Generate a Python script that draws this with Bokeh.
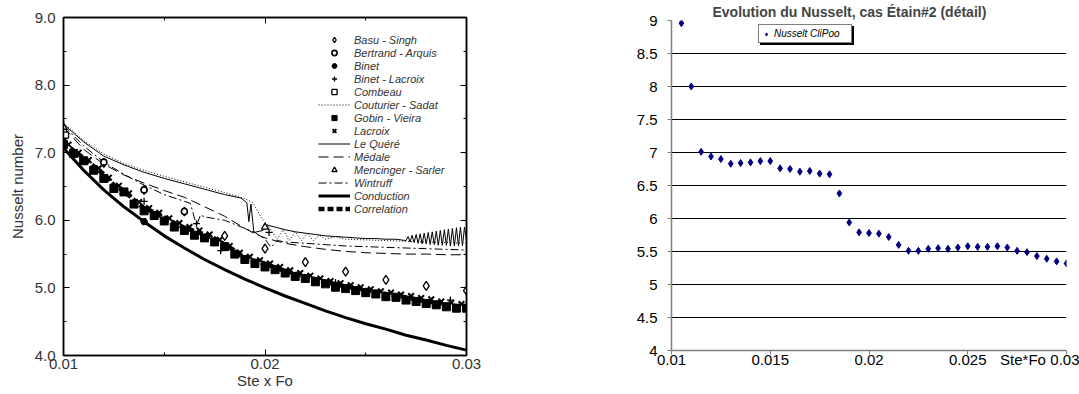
from bokeh.plotting import figure
from bokeh.layouts import row, column
from bokeh.models import (LinearAxis, FixedTicker, Legend, LegendItem, Range1d)
from bokeh.embed import file_html
from bokeh.resources import INLINE

FONT = "Liberation Sans"

# ---------------- Left panel data ----------------
basu_x = [0.012, 0.014, 0.016, 0.018, 0.020, 0.022, 0.024, 0.026, 0.028, 0.030]
basu_y = [6.85, 6.45, 6.13, 5.77, 5.58, 5.38, 5.24, 5.12, 5.03, 4.96]

bertrand_x = [0.012, 0.014, 0.016]
bertrand_y = [6.86, 6.45, 6.13]

binet_x = [0.0100, 0.0140]
binet_y = [7.22, 5.98]

binetlac_x = [0.0100, 0.0140, 0.0166, 0.0178, 0.0202, 0.0235, 0.0292]
binetlac_y = [7.28, 6.28, 5.95, 5.55, 5.82, 5.08, 4.82]

combeau_x = [0.0100, 0.0101]
combeau_y = [7.30, 7.26]

mencinger_x = [0.0100, 0.0200]
mencinger_y = [7.38, 5.90]

couturier_x = [0.0100, 0.0110, 0.0120, 0.0130, 0.0140, 0.0150, 0.0160, 0.0170, 0.0180, 0.0190,
               0.0194, 0.0198, 0.0202, 0.0206, 0.0209, 0.0212, 0.0215, 0.0218, 0.0221, 0.0224,
               0.0227, 0.0230, 0.0235, 0.0240, 0.0250, 0.0260, 0.0270, 0.0280, 0.0290, 0.0300]
couturier_y = [7.44, 7.18, 6.98, 6.84, 6.74, 6.65, 6.57, 6.49, 6.41, 6.32,
               6.26, 6.05, 5.90, 5.72, 5.86, 5.70, 5.83, 5.70, 5.80, 5.70,
               5.78, 5.72, 5.76, 5.72, 5.71, 5.70, 5.69, 5.68, 5.67, 5.66]

lequere_x = [0.0100, 0.0110, 0.0120, 0.0130, 0.0140, 0.0150, 0.0160, 0.0170, 0.0180, 0.0188,
             0.0191, 0.0192, 0.0193, 0.01945, 0.0199, 0.0201, 0.0205, 0.0210, 0.0215, 0.0220,
             0.0225, 0.0230, 0.0235, 0.0240, 0.0245, 0.0250, 0.0255, 0.0260, 0.0265,
             0.0270, 0.0271, 0.0272, 0.0273, 0.0274, 0.0275, 0.0276, 0.0277, 0.0278, 0.0279,
             0.0280, 0.0281, 0.0282, 0.0283, 0.0284, 0.0285, 0.0286, 0.0287, 0.0288, 0.0289,
             0.0290, 0.0291, 0.0292, 0.0293, 0.0294, 0.0295, 0.0296, 0.0297, 0.0298, 0.0299,
             0.0300]
lequere_y = [7.42, 7.16, 6.95, 6.82, 6.71, 6.62, 6.54, 6.46, 6.38, 6.33,
             6.26, 5.98, 6.24, 5.82, 5.85, 5.93, 5.90, 5.86, 5.83, 5.81,
             5.79, 5.77, 5.76, 5.75, 5.74, 5.73, 5.73, 5.72, 5.72,
             5.70, 5.76, 5.68, 5.78, 5.67, 5.79, 5.66, 5.80, 5.65, 5.81,
             5.65, 5.82, 5.64, 5.83, 5.64, 5.84, 5.63, 5.85, 5.63, 5.86,
             5.63, 5.87, 5.62, 5.88, 5.62, 5.89, 5.62, 5.90, 5.62, 5.90,
             5.70]

medale_x = [0.0100, 0.0110, 0.0120, 0.0130, 0.0140, 0.0150, 0.0160, 0.0170, 0.0180, 0.0190,
            0.0195, 0.0200, 0.0210, 0.0220, 0.0230, 0.0240, 0.0250, 0.0260, 0.0270, 0.0280,
            0.0290, 0.0300]
medale_y = [7.38, 7.05, 6.83, 6.67, 6.55, 6.44, 6.34, 6.20, 6.06, 5.88,
            5.80, 5.74, 5.66, 5.61, 5.57, 5.54, 5.52, 5.51, 5.50, 5.50,
            5.49, 5.49]

wintruff_x = [0.0100, 0.0110, 0.0120, 0.0130, 0.0140, 0.0150, 0.0160, 0.0163, 0.0166, 0.0168,
              0.0170, 0.0180, 0.0190, 0.0195, 0.0200, 0.0203, 0.0206, 0.0210, 0.0220, 0.0230,
              0.0240, 0.0250, 0.0260, 0.0270, 0.0280, 0.0290, 0.0300]
wintruff_y = [7.40, 7.10, 6.86, 6.68, 6.52, 6.38, 6.28, 6.25, 5.92, 6.08,
              6.05, 6.00, 5.88, 5.82, 5.72, 5.60, 5.70, 5.68, 5.66, 5.64,
              5.62, 5.61, 5.60, 5.59, 5.58, 5.57, 5.56]

conduction_x = [0.010, 0.011, 0.012, 0.013, 0.014, 0.015, 0.016, 0.017, 0.018, 0.019, 0.020,
                0.021, 0.022, 0.023, 0.024, 0.025, 0.026, 0.027, 0.028, 0.029, 0.030]
conduction_y = [7.07, 6.74, 6.45, 6.20, 5.98, 5.77, 5.59, 5.42, 5.27, 5.13, 5.00,
                4.88, 4.77, 4.66, 4.56, 4.47, 4.39, 4.30, 4.23, 4.15, 4.08]

band_x = [0.0100, 0.0105, 0.0110, 0.0115, 0.0120, 0.0125, 0.0130, 0.0135, 0.0140, 0.0145,
          0.0150, 0.0155, 0.0160, 0.0165, 0.0170, 0.0175, 0.0180, 0.0185, 0.0190, 0.0195,
          0.0200, 0.0205, 0.0210, 0.0215, 0.0220, 0.0225, 0.0230, 0.0235, 0.0240, 0.0245,
          0.0250, 0.0255, 0.0260, 0.0265, 0.0270, 0.0275, 0.0280, 0.0285, 0.0290, 0.0295,
          0.0300]
correlation_y = [7.15, 7.03, 6.92, 6.80, 6.68, 6.52, 6.44, 6.30, 6.18, 6.12,
                 6.04, 5.96, 5.89, 5.84, 5.79, 5.73, 5.64, 5.55, 5.44, 5.40,
                 5.36, 5.30, 5.25, 5.21, 5.17, 5.13, 5.09, 5.05, 5.02, 5.00,
                 4.97, 4.94, 4.91, 4.89, 4.86, 4.83, 4.80, 4.78, 4.75, 4.73,
                 4.72]
gobin_y = [7.12, 6.99, 6.88, 6.74, 6.62, 6.47, 6.42, 6.24, 6.14, 6.07,
           5.99, 5.90, 5.85, 5.78, 5.74, 5.68, 5.61, 5.50, 5.42, 5.36,
           5.31, 5.27, 5.22, 5.17, 5.14, 5.09, 5.06, 5.01, 4.99, 4.96,
           4.93, 4.91, 4.87, 4.86, 4.82, 4.80, 4.77, 4.75, 4.72, 4.70,
           4.70]
lacroix_x = [0.01025, 0.01075, 0.01125, 0.01175, 0.01225, 0.01275, 0.01325, 0.01375, 0.01425, 0.01475,
             0.01525, 0.01575, 0.01625, 0.01675, 0.01725, 0.01775, 0.01825, 0.01875, 0.01925, 0.01975,
             0.02025, 0.02075, 0.02125, 0.02175, 0.02225, 0.02275, 0.02325, 0.02375, 0.02425, 0.02475,
             0.02525, 0.02575, 0.02625, 0.02675, 0.02725, 0.02775, 0.02825, 0.02875, 0.02925, 0.02975]
lacroix_y = [7.12, 7.00, 6.89, 6.77, 6.63, 6.51, 6.40, 6.27, 6.18, 6.11,
             6.03, 5.96, 5.90, 5.85, 5.79, 5.71, 5.62, 5.52, 5.46, 5.41,
             5.36, 5.31, 5.26, 5.22, 5.18, 5.14, 5.10, 5.07, 5.04, 5.01,
             4.98, 4.95, 4.93, 4.90, 4.88, 4.85, 4.83, 4.80, 4.78, 4.76]

left_xticks = [0.01, 0.02, 0.03]
left_xminor = [0.015, 0.025]
left_yticks = [4.0, 5.0, 6.0, 7.0, 8.0, 9.0]
left_yminor = [4.5, 5.5, 6.5, 7.5, 8.5]

# ---------------- Right panel data ----------------
clipoo_x = [0.0105, 0.0110, 0.0115, 0.0120, 0.0125, 0.0130, 0.0135, 0.0140, 0.0145, 0.0150,
            0.0155, 0.0160, 0.0165, 0.0170, 0.0175, 0.0180, 0.0185, 0.0190, 0.0195, 0.0200,
            0.0205, 0.0210, 0.0215, 0.0220, 0.0225, 0.0230, 0.0235, 0.0240, 0.0245, 0.0250,
            0.0255, 0.0260, 0.0265, 0.0270, 0.0275, 0.0280, 0.0285, 0.0290, 0.0295, 0.0300]
clipoo_y = [8.96, 8.00, 7.01, 6.94, 6.90, 6.83, 6.84, 6.85, 6.87, 6.87,
            6.76, 6.75, 6.71, 6.72, 6.68, 6.67, 6.38, 5.94, 5.79, 5.78,
            5.77, 5.72, 5.60, 5.51, 5.51, 5.54, 5.55, 5.54, 5.56, 5.58,
            5.57, 5.57, 5.58, 5.56, 5.51, 5.49, 5.43, 5.39, 5.35, 5.32]
right_xticks = [0.01, 0.015, 0.02, 0.025, 0.03]
right_yticks = [4, 4.5, 5, 5.5, 6, 6.5, 7, 7.5, 8, 8.5, 9]
right_xtitle = "Ste*Fo"
right_xtitle_at = 0.0278

# ================= Left figure =================
p1 = figure(width=540, height=394, output_backend="svg", toolbar_location=None,
            x_range=Range1d(0.01, 0.03), y_range=Range1d(4.0, 9.0),
            min_border_left=63, min_border_right=74, min_border_top=17, min_border_bottom=39)
p1.xgrid.visible = False
p1.ygrid.visible = False
p1.outline_line_color = "black"
p1.outline_line_width = 1.5

TXT = "#333333"

def style_axis(ax, ticks, minor, labels=True, fmt=None, standoff=4):
    ax.ticker = FixedTicker(ticks=ticks, minor_ticks=minor)
    ax.axis_line_color = "black"
    ax.axis_line_width = 1.5
    ax.major_tick_line_color = "black"
    ax.minor_tick_line_color = "black"
    ax.major_tick_in = 6
    ax.major_tick_out = 0
    ax.minor_tick_in = 3
    ax.minor_tick_out = 0
    if labels:
        ax.major_label_text_font = FONT
        ax.major_label_text_font_size = "15px"
        ax.major_label_text_color = TXT
        ax.major_label_standoff = standoff
        if fmt:
            ax.major_label_overrides = {t: fmt.format(t) for t in ticks}
    else:
        ax.major_label_text_font_size = "0px"
        ax.major_label_text_color = None
        ax.major_label_standoff = 0

style_axis(p1.xaxis[0], left_xticks, left_xminor, True, "{:g}", 3)
style_axis(p1.yaxis[0], left_yticks, left_yminor, True, "{:.1f}", 8)
p1.xaxis.axis_label = "Ste x Fo"
p1.yaxis.axis_label = "Nusselt number"
for ax in (p1.xaxis[0], p1.yaxis[0]):
    ax.axis_label_text_font = FONT
    ax.axis_label_text_font_size = "15px"
    ax.axis_label_text_font_style = "normal"
    ax.axis_label_text_color = TXT
p1.xaxis[0].axis_label_standoff = 0
p1.yaxis[0].axis_label_standoff = 6

top_ax = LinearAxis()
style_axis(top_ax, left_xticks, left_xminor, False)
p1.add_layout(top_ax, "above")
right_ax = LinearAxis()
style_axis(right_ax, left_yticks, left_yminor, False)
p1.add_layout(right_ax, "right")

r_conduction = p1.line(conduction_x, conduction_y, line_color="black", line_width=3)
r_correlation = p1.line(band_x, correlation_y, line_color="black", line_width=4.5, line_dash="6 3")
r_gobin = p1.scatter(band_x, gobin_y, marker="square", size=8, fill_color="black", line_color="black")
r_lacroix = p1.scatter(lacroix_x, lacroix_y, marker="x", size=8, line_color="black", line_width=2)
r_medale = p1.line(medale_x, medale_y, line_color="black", line_width=1, line_dash="10 5")
r_wintruff = p1.line(wintruff_x, wintruff_y, line_color="black", line_width=1, line_dash="8 3 2 3")
r_couturier = p1.line(couturier_x, couturier_y, line_color="black", line_width=1, line_dash="1 2")
r_lequere = p1.line(lequere_x, lequere_y, line_color="black", line_width=1)
r_basu = p1.scatter(basu_x, basu_y, marker="diamond", size=9, fill_color="white", line_color="black", line_width=1.3)
r_bertrand = p1.scatter(bertrand_x, bertrand_y, marker="circle", size=6, fill_color="white", line_color="black", line_width=1.6)
r_binet = p1.scatter(binet_x, binet_y, marker="hex", size=7, fill_color="black", line_color="black")
r_binetlac = p1.scatter(binetlac_x, binetlac_y, marker="cross", size=7, line_color="black", line_width=1.3)
r_combeau = p1.scatter(combeau_x, combeau_y, marker="square", size=6, fill_color="white", line_color="black", line_width=1.3)
r_mencinger = p1.scatter(mencinger_x, mencinger_y, marker="triangle", size=7, fill_color="white", line_color="black", line_width=1.3)

items = [
    ("Basu - Singh", r_basu), ("Bertrand - Arquis", r_bertrand), ("Binet", r_binet),
    ("Binet - Lacroix", r_binetlac), ("Combeau", r_combeau), ("Couturier - Sadat", r_couturier),
    ("Gobin - Vieira", r_gobin), ("Lacroix", r_lacroix), ("Le Quéré", r_lequere),
    ("Médale", r_medale), ("Mencinger - Sarler", r_mencinger), ("Wintruff", r_wintruff),
    ("Conduction", r_conduction), ("Correlation", r_correlation),
]
leg1 = Legend(items=[LegendItem(label=l, renderers=[r]) for l, r in items],
              location=(255, 140), orientation="vertical",
              background_fill_alpha=0, border_line_color=None,
              label_text_font=FONT, label_text_font_size="11px", label_text_font_style="italic",
              label_text_color=TXT, glyph_width=32, glyph_height=13, label_height=13,
              spacing=0, padding=0, margin=0, label_standoff=4)
p1.add_layout(leg1)

# ================= Right figure =================
p2 = figure(width=539, height=394, output_backend="svg", toolbar_location=None,
            x_range=Range1d(0.01, 0.03), y_range=Range1d(4, 9),
            min_border_left=131, min_border_right=13, min_border_top=20, min_border_bottom=44,
            title="Evolution du Nusselt, cas Étain#2 (détail)")
p2.title.text_font = FONT
p2.title.text_font_size = "14px"
p2.title.text_font_style = "bold"
p2.title.align = "left"
p2.title.standoff = 2
p2.title.offset = 41
p2.outline_line_color = None
p2.xgrid.visible = False
p2.ygrid.ticker = FixedTicker(ticks=right_yticks)
p2.ygrid.grid_line_color = "black"
p2.ygrid.grid_line_width = 1
p2.ygrid.grid_line_alpha = 1

for ax, ticks in ((p2.xaxis[0], right_xticks), (p2.yaxis[0], right_yticks)):
    ax.ticker = FixedTicker(ticks=ticks, minor_ticks=[])
    ax.axis_line_color = "#808080"
    ax.axis_line_width = 1.5
    ax.major_tick_line_color = "#808080"
    ax.major_tick_in = 0
    ax.major_tick_out = 4
    ax.minor_tick_line_color = None
    ax.major_label_text_font = FONT
    ax.major_label_text_font_size = "15px"
    ax.major_label_text_color = "black"
    ax.major_label_overrides = {t: "{:g}".format(t) for t in ticks}
p2.yaxis[0].major_label_standoff = 10
# bottom axis: ticks only; labels come from a second, line-less axis below it
p2.xaxis[0].major_label_text_font_size = "0px"
p2.xaxis[0].major_label_text_color = None
p2.xaxis[0].major_label_standoff = 0

lab_ticks = right_xticks[:4] + [right_xtitle_at] + right_xticks[4:]
lab_ax = LinearAxis(ticker=FixedTicker(ticks=lab_ticks, minor_ticks=[]))
lab_ax.axis_line_color = None
lab_ax.major_tick_line_color = None
lab_ax.minor_tick_line_color = None
lab_ax.major_tick_out = 0
lab_ax.major_tick_in = 0
lab_ax.major_label_standoff = -4
lab_ax.major_label_text_font = FONT
lab_ax.major_label_text_font_size = "15px"
lab_ax.major_label_text_color = "black"
ov = {t: "{:g}".format(t) for t in right_xticks}
ov[right_xtitle_at] = right_xtitle
lab_ax.major_label_overrides = ov
p2.add_layout(lab_ax, "below")

r_clipoo = p2.scatter(clipoo_x, clipoo_y, marker="diamond", size=7, fill_color="#000080", line_color="#000080")

leg_kw = dict(label_text_font=FONT, label_text_font_size="10px", label_text_font_style="italic",
              glyph_width=8, glyph_height=8, label_height=8, label_width=74,
              padding=3, margin=0, label_standoff=4, border_line_width=1)
shadow = Legend(items=[LegendItem(label="Nusselt CliPoo", renderers=[r_clipoo])],
                location=(89, 305), background_fill_color="black", background_fill_alpha=1,
                border_line_color="black", label_text_color="black", **leg_kw)
leg2 = Legend(items=[LegendItem(label="Nusselt CliPoo", renderers=[r_clipoo])],
              location=(87, 307), background_fill_color="white", background_fill_alpha=1,
              border_line_color="black", label_text_color="black", **leg_kw)
p2.add_layout(shadow)
p2.add_layout(leg2)

layout = row(column(p1), column(p2))
open("out.html", "w").write(file_html(layout, INLINE))
